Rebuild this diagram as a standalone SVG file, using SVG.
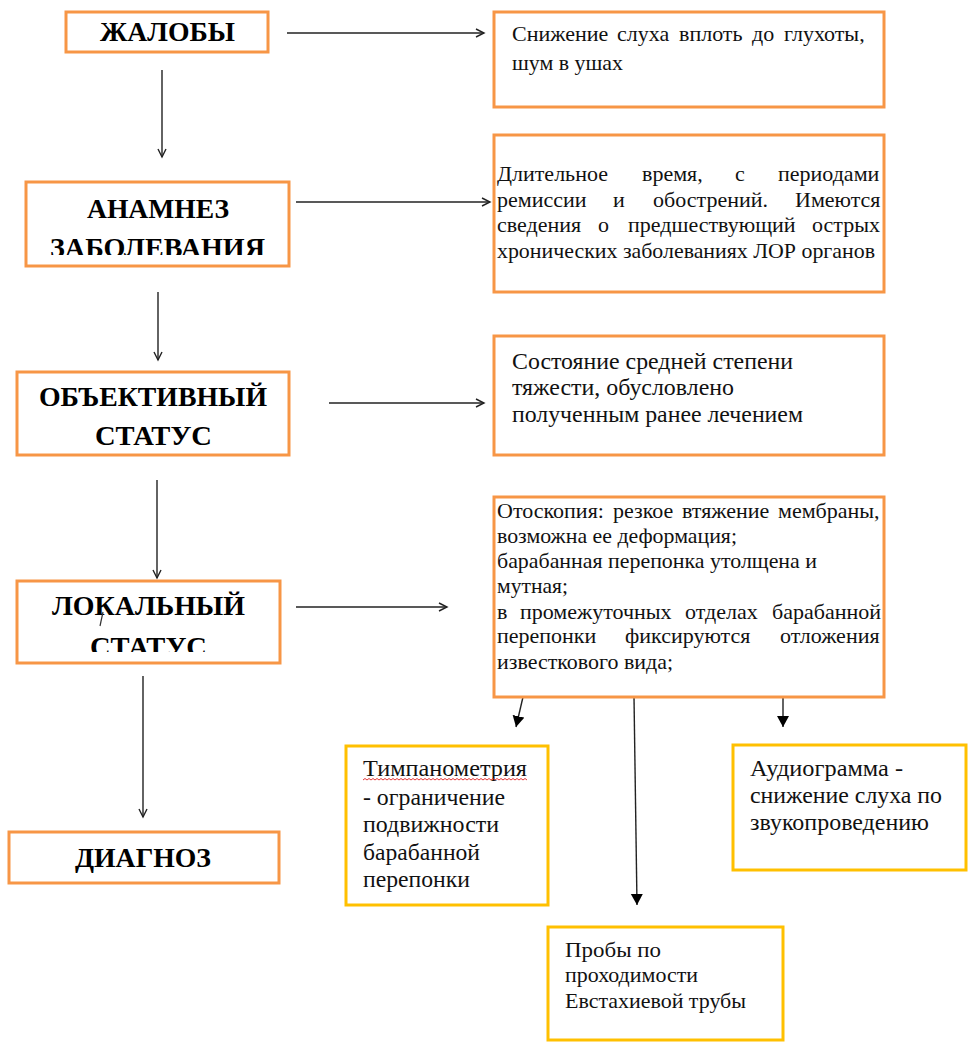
<svg xmlns="http://www.w3.org/2000/svg" width="974" height="1051" viewBox="0 0 974 1051">
<style>
.o{fill:#fff;stroke:#F79646;stroke-width:3}
.y{fill:#fff;stroke:#FFC000;stroke-width:3}
.h{font-family:"Liberation Serif","DejaVu Serif",serif;font-weight:bold;font-size:27px;fill:#000}
.t{font-family:"Liberation Serif","DejaVu Serif",serif;font-size:22px;fill:#111}
.t24{font-family:"Liberation Serif","DejaVu Serif",serif;font-size:24px;fill:#111}
.c{fill:none;stroke:#222;stroke-width:1.4}
</style>
<defs>
<marker id="oa" markerUnits="userSpaceOnUse" markerWidth="12" markerHeight="12" refX="9" refY="5" orient="auto">
<path d="M1,1 L9,5 L1,9" fill="none" stroke="#222" stroke-width="1.4"/>
</marker>
<marker id="fa" markerUnits="userSpaceOnUse" markerWidth="12" markerHeight="14" refX="11" refY="6" orient="auto">
<path d="M0,0 L11,6 L0,12 z" fill="#000"/>
</marker>
<clipPath id="clipA"><rect x="0" y="170" width="300" height="85"/></clipPath>
<clipPath id="clipL"><rect x="0" y="575" width="300" height="77"/></clipPath>
</defs>

<g id="connectors">
<path class="c" d="M287,33 H484" marker-end="url(#oa)"/>
<path class="c" d="M296,202 H490" marker-end="url(#oa)"/>
<path class="c" d="M329,403 H484" marker-end="url(#oa)"/>
<path class="c" d="M296,607 H447" marker-end="url(#oa)"/>
<path class="c" d="M162,70 V157" marker-end="url(#oa)"/>
<path class="c" d="M158,292 V360" marker-end="url(#oa)"/>
<path class="c" d="M157,480 V578" marker-end="url(#oa)"/>
<path class="c" d="M143,676 V817" marker-end="url(#oa)"/>
<path class="c" d="M523,697 L516,727" marker-end="url(#fa)"/>
<path class="c" d="M634,697 L637,905" marker-end="url(#fa)"/>
<path class="c" d="M783,697 V727" marker-end="url(#fa)"/>
</g>

<g id="zhaloby">
<rect class="o" x="66" y="12" width="202" height="40"/>
<text class="h" x="100" y="41" textLength="135" lengthAdjust="spacingAndGlyphs">ЖАЛОБЫ</text>
</g>

<g id="anamnez">
<rect class="o" x="26" y="182" width="263" height="84"/>
<text class="h" x="87" y="218" textLength="142" lengthAdjust="spacingAndGlyphs">АНАМНЕЗ</text>
<text class="h" x="50" y="257" textLength="215" lengthAdjust="spacingAndGlyphs" clip-path="url(#clipA)">ЗАБОЛЕВАНИЯ</text>
</g>

<g id="objective">
<rect class="o" x="17" y="372" width="272" height="83"/>
<text class="h" x="39" y="406" textLength="228" lengthAdjust="spacingAndGlyphs">ОБЪЕКТИВНЫЙ</text>
<text class="h" x="95" y="445" textLength="117" lengthAdjust="spacingAndGlyphs">СТАТУС</text>
</g>

<g id="local">
<rect class="o" x="17" y="581" width="263" height="82"/>
<text class="h" x="52" y="615" textLength="193" lengthAdjust="spacingAndGlyphs">ЛОКАЛЬНЫЙ</text>
<text class="h" x="90" y="656" textLength="117" lengthAdjust="spacingAndGlyphs" clip-path="url(#clipL)">СТАТУС</text>
<path d="M103,612 L100,626" stroke="#333" stroke-width="1.2" fill="none"/>
</g>

<g id="diagnoz">
<rect class="o" x="9" y="832" width="270" height="51"/>
<text class="h" x="75" y="867" textLength="136" lengthAdjust="spacingAndGlyphs">ДИАГНОЗ</text>
</g>

<g id="complaints">
<rect class="o" x="494" y="12" width="390" height="95"/>
<text class="t"><tspan x="512" y="41">Снижение</tspan><tspan x="617" y="41">слуха</tspan><tspan x="679" y="41">вплоть</tspan><tspan x="752" y="41">до</tspan><tspan x="784" y="41">глухоты,</tspan></text>
<text class="t" x="512" y="70" textLength="111" lengthAdjust="spacingAndGlyphs">шум в ушах</text>
</g>

<g id="history">
<rect class="o" x="494" y="135" width="390" height="157"/>
<text class="t"><tspan x="497" y="181">Длительное</tspan><tspan x="642" y="181">время,</tspan><tspan x="735" y="181">с</tspan><tspan x="778" y="181">периодами</tspan></text>
<text class="t"><tspan x="497" y="207">ремиссии</tspan><tspan x="613" y="207">и</tspan><tspan x="653" y="207">обострений.</tspan><tspan x="795" y="207">Имеются</tspan></text>
<text class="t"><tspan x="497" y="232">сведения</tspan><tspan x="598" y="232">о</tspan><tspan x="628" y="232">предшествующий</tspan><tspan x="812" y="232">острых</tspan></text>
<text class="t" x="497" y="258" textLength="378" lengthAdjust="spacingAndGlyphs">хронических заболеваниях ЛОР органов</text>
</g>

<g id="state">
<rect class="o" x="494" y="336" width="390" height="119"/>
<text class="t24" x="512" y="369" textLength="281" lengthAdjust="spacingAndGlyphs">Состояние средней степени</text>
<text class="t24" x="512" y="395" textLength="222" lengthAdjust="spacingAndGlyphs">тяжести, обусловлено</text>
<text class="t24" x="512" y="422" textLength="291" lengthAdjust="spacingAndGlyphs">полученным ранее лечением</text>
</g>

<g id="otoscopy">
<rect class="o" x="494" y="497" width="390" height="200"/>
<text class="t"><tspan x="497" y="518">Отоскопия:</tspan><tspan x="613" y="518">резкое</tspan><tspan x="682" y="518">втяжение</tspan><tspan x="778" y="518">мембраны,</tspan></text>
<text class="t" x="497" y="543" textLength="240" lengthAdjust="spacingAndGlyphs">возможна ее деформация;</text>
<text class="t" x="497" y="568" textLength="320" lengthAdjust="spacingAndGlyphs">барабанная перепонка утолщена и</text>
<text class="t" x="497" y="593" textLength="71" lengthAdjust="spacingAndGlyphs">мутная;</text>
<text class="t"><tspan x="497" y="619">в</tspan><tspan x="520" y="619">промежуточных</tspan><tspan x="685" y="619">отделах</tspan><tspan x="772" y="619">барабанной</tspan></text>
<text class="t"><tspan x="497" y="643">перепонки</tspan><tspan x="625" y="643">фиксируются</tspan><tspan x="780" y="643">отложения</tspan></text>
<text class="t" x="497" y="669" textLength="176" lengthAdjust="spacingAndGlyphs">известкового вида;</text>
</g>

<g id="tympanometry">
<rect class="y" x="346" y="746" width="202" height="159"/>
<text class="t24" x="363" y="776" textLength="164" lengthAdjust="spacingAndGlyphs">Тимпанометрия</text>
<path d="M363,780 l2,-1.5 2,1.5 2,-1.5 2,1.5 2,-1.5 2,1.5 2,-1.5 2,1.5 2,-1.5 2,1.5 2,-1.5 2,1.5 2,-1.5 2,1.5 2,-1.5 2,1.5 2,-1.5 2,1.5 2,-1.5 2,1.5 2,-1.5 2,1.5 2,-1.5 2,1.5 2,-1.5 2,1.5 2,-1.5 2,1.5 2,-1.5 2,1.5 2,-1.5 2,1.5 2,-1.5 2,1.5 2,-1.5 2,1.5 2,-1.5 2,1.5 2,-1.5 2,1.5 2,-1.5 2,1.5 2,-1.5 2,1.5 2,-1.5 2,1.5 2,-1.5 2,1.5 2,-1.5 2,1.5 2,-1.5 2,1.5 2,-1.5 2,1.5 2,-1.5 2,1.5 2,-1.5 2,1.5 2,-1.5 2,1.5 2,-1.5 2,1.5 2,-1.5 2,1.5 2,-1.5 2,1.5 2,-1.5 2,1.5 2,-1.5 2,1.5 2,-1.5 2,1.5 2,-1.5 2,1.5 2,-1.5 2,1.5 2,-1.5 2,1.5 2,-1.5 2,1.5 2,-1.5 2,1.5" fill="none" stroke="#e02020" stroke-width="0.9"/>
<text class="t24" x="363" y="805" textLength="142" lengthAdjust="spacingAndGlyphs">- ограничение</text>
<text class="t24" x="363" y="832" textLength="136" lengthAdjust="spacingAndGlyphs">подвижности</text>
<text class="t24" x="363" y="860" textLength="117" lengthAdjust="spacingAndGlyphs">барабанной</text>
<text class="t24" x="363" y="887" textLength="107" lengthAdjust="spacingAndGlyphs">перепонки</text>
</g>

<g id="audiogram">
<rect class="y" x="733" y="745" width="233" height="125"/>
<text class="t24" x="750" y="776" textLength="153" lengthAdjust="spacingAndGlyphs">Аудиограмма -</text>
<text class="t24" x="750" y="803" textLength="192" lengthAdjust="spacingAndGlyphs">снижение слуха по</text>
<text class="t24" x="750" y="830" textLength="179" lengthAdjust="spacingAndGlyphs">звукопроведению</text>
</g>

<g id="tubal-tests">
<rect class="y" x="548" y="927" width="235" height="113"/>
<text class="t" x="565" y="957" textLength="96" lengthAdjust="spacingAndGlyphs">Пробы по</text>
<text class="t" x="565" y="982" textLength="133" lengthAdjust="spacingAndGlyphs">проходимости</text>
<text class="t" x="565" y="1008" textLength="181" lengthAdjust="spacingAndGlyphs">Евстахиевой трубы</text>
</g>
</svg>
